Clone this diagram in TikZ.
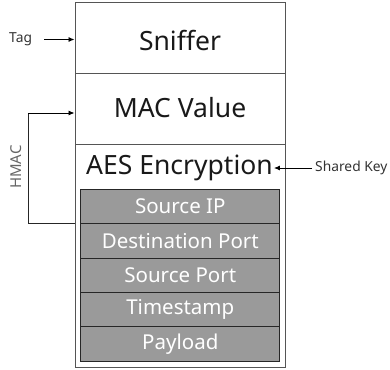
\documentclass[tikz,border=0pt]{standalone}
\usepackage{fontspec}
\setmainfont{Noto Sans}
\usetikzlibrary{arrows.meta}
\definecolor{fieldgray}{HTML}{9A9A9A}
\definecolor{framegray}{HTML}{555555}
\begin{document}
\begin{tikzpicture}[x=1pt,y=-1pt,
  layer/.style={draw=framegray,line width=1pt,minimum width=210pt,inner sep=0pt},
  field/.style={draw=black!85,line width=1pt,fill=fieldgray,minimum width=199pt,
    minimum height=34.4pt,inner sep=0pt,text=white,font=\fontsize{20.5}{22}\selectfont},
  big/.style={font=\fontsize{26.5}{28}\selectfont,text=black!90},
  small/.style={font=\fontsize{13.8}{15}\selectfont,text=black!80},
  arr/.style={-{Latex[length=6pt,width=5pt]},line width=0.9pt}
]
\useasboundingbox (0,0) rectangle (390,369);
% outer frame with three sections
\node[layer,minimum height=70pt] (sniff) at (180,38) {};
\node[layer,minimum height=71pt] (mac) at (180,108.5) {};
\node[layer,minimum height=223.5pt] (aes) at (180,255.75) {};
\node[big] (sniffT) at (180,40) {Sniffer};
\node[big] (macT) at (180,108) {MAC Value};
\node[big,inner sep=1pt] (aesT) at (179.5,168) {AES Encryption};
% encrypted fields
\node[field] (f1) at (180.3,206.5) {Source IP};
\node[field] (f2) at (180.3,240.9) {Destination Port};
\node[field] (f3) at (180.3,275.3) {Source Port};
\node[field] (f4) at (180.3,309.7) {Timestamp};
\node[field] (f5) at (180.3,344.1) {Payload};
% side labels and arrows
\node[small,anchor=west,inner sep=0pt] (tag) at (9,39.5) {Tag};
\draw[arr] (tag.east) ++(12,0) -- (sniff.west |- tag.east);
\node[small,anchor=west,inner sep=0pt] (key) at (315,168) {Shared Key};
\draw[arr] (key.west) ++(-3,0) -- (aesT.east);
\coordinate (h1) at (28,113);
\coordinate (h2) at (28,223);
\draw[line width=0.9pt,draw=black!85] (aes.west |- h2) -- (h2) -- (h1);
\draw[arr] (h1) -- (mac.west |- h1);
\node[small,rotate=90,text=black!60,font=\fontsize{15}{16}\selectfont] (hmac) at (16,167) {HMAC};
\end{tikzpicture}
\end{document}
